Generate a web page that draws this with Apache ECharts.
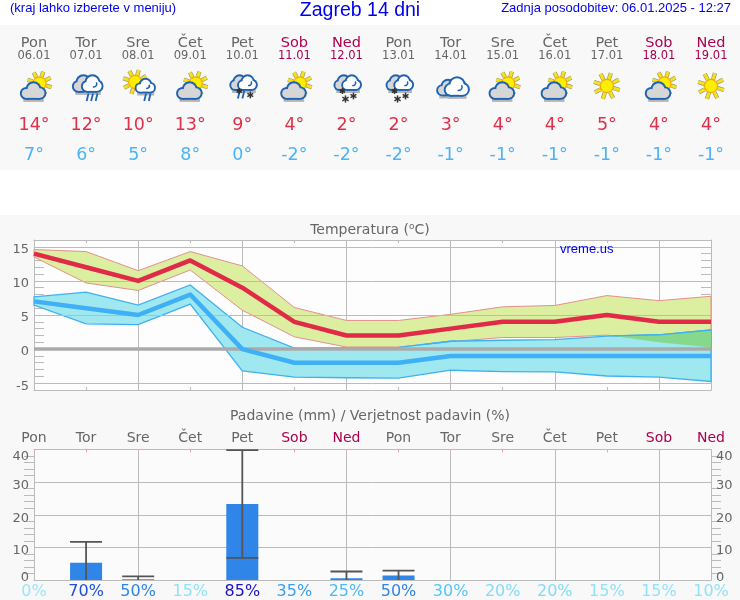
<!DOCTYPE html>
<html><head><meta charset="utf-8">
<style>html,body{margin:0;padding:0;background:#fff}#c{width:740px;height:600px}</style>
<script src="https://cdn.jsdelivr.net/npm/echarts@6/dist/echarts.min.js"></script>
</head><body><div id="c"></div>
<script>
const days = ['Pon','Tor','Sre','Čet','Pet','Sob','Ned','Pon','Tor','Sre','Čet','Pet','Sob','Ned'];
const dates = ['06.01','07.01','08.01','09.01','10.01','11.01','12.01','13.01','14.01','15.01','16.01','17.01','18.01','19.01'];
const icons = ['partly','rain','sunrain','partly','sleet','partly','snow','snow','cloud','partly','partly','sun','partly','sun'];
const tempMax = [14,12,10,13,9,4,2,2,3,4,4,5,4,4];
const tempMin = [7,6,5,8,0,-2,-2,-2,-1,-1,-1,-1,-1,-1];
const maxUpper = [14.6,14.3,11.5,14.3,12.2,6.1,4.2,4.2,5.1,6.2,6.4,7.85,7.1,7.75];
const maxLower = [13.5,9.7,8.6,11.6,5.7,1.8,0.3,0.3,1.1,1.7,1.7,2.05,1.0,0.25];
const minUpper = [7.65,8.35,6.45,9.4,3.2,0.15,0.2,0.25,1.15,1.3,1.4,1.9,2.1,2.8];
const minLower = [6.45,3.7,3.6,6.6,-3.2,-4.1,-4.2,-4.25,-3.1,-3.3,-3.35,-3.95,-4.1,-4.75];
const zeroLine = [0,0,0,0,0,0,0,0,0,0,0,0,0,0];
const precip = [0,5.3,0.2,0,23.3,0,0.5,1.4,0,0,0,0,0,0];
const precipLow = [null,0,0,null,6.8,null,0,0,null,null,null,null,null,null];
const precipHigh = [null,11.7,1.1,null,39.8,null,2.6,2.9,null,null,null,null,null,null];
const probability = [0,70,50,15,85,35,25,50,30,20,20,15,15,10];
const probabilityColors = {0:'#9be6f8',10:'#8fe3f8',15:'#8fe3f8',20:'#80dcf8',25:'#4cbaf8',30:'#55c5fa',35:'#3a9ef0',50:'#2f85e8',70:'#1e50d8',85:'#1a10c8'};

const GREY='#666', WEEKEND='#a8004c', FONT='"DejaVu Sans"', LINE='#bbbbbb', LINK='#0000ee';
const isWeekend = i => i===5||i===6||i===12||i===13;
const dayColor = (v,i) => isWeekend(i) ? WEEKEND : GREY;

const OUT='#1f62b2';
function cloudParts(cx,cy,w,h,fill,curl){
  const lobes=[[-0.28*w,0.16*h,0.30*h],[0.28*w,0.14*h,0.32*h],[0.02*w,-0.12*h,0.40*h]];
  const body={x:cx-0.28*w,y:cy+0.1*h,width:0.56*w,height:0.36*h};
  const out=[];
  out.push({type:'rect',shape:{x:body.x-3,y:body.y+3,width:body.width+7,height:body.height+1},style:{fill:'#b5b5b5'}});
  lobes.forEach(l=>out.push({type:'circle',shape:{cx:cx+l[0],cy:cy+l[1],r:l[2]+1.9},style:{fill:OUT}}));
  out.push({type:'rect',shape:{x:body.x,y:body.y-1,width:body.width,height:body.height+2.9},style:{fill:OUT}});
  lobes.forEach(l=>out.push({type:'circle',shape:{cx:cx+l[0],cy:cy+l[1],r:l[2]},style:{fill:fill}}));
  out.push({type:'rect',shape:{x:body.x,y:body.y-1,width:body.width,height:body.height+1},style:{fill:fill}});
  if(curl) out.push({type:'arc',shape:{cx:cx+0.1*w,cy:cy+0.0*h,r:0.2*h,startAngle:-0.6,endAngle:1.9,clockwise:true},style:{stroke:OUT,lineWidth:1.5,fill:null}});
  return out;
}
function sunParts(cx,cy,r,len){
  const out=[];
  for(let k=0;k<8;k++){
    const a=k*Math.PI/4+0.3, c=Math.cos(a), s=Math.sin(a);
    const seg={x1:cx+c*(r+1),y1:cy+s*(r+1),x2:cx+c*(r+len),y2:cy+s*(r+len)};
    out.push({type:'line',shape:seg,style:{stroke:'#8f8f78',lineWidth:4.2}});
    out.push({type:'line',shape:seg,style:{stroke:'#f6e21a',lineWidth:3}});
  }
  out.push({type:'circle',shape:{cx,cy,r:r+1.2},style:{fill:'#f3a900'}});
  out.push({type:'circle',shape:{cx,cy,r:r},style:{fill:'#ffee00'}});
  return out;
}
function rainParts(x,y,n){
  const out=[];
  for(let k=0;k<n;k++) out.push({type:'line',shape:{x1:x+k*4.5+1.4,y1:y,x2:x+k*4.5-0.4,y2:y+7.5},style:{stroke:OUT,lineWidth:1.8}});
  return out;
}
function flakeParts(x,y,r){
  const out=[];
  for(let k=0;k<3;k++){
    const a=k*Math.PI/3+Math.PI/2, c=Math.cos(a)*r, s=Math.sin(a)*r;
    out.push({type:'line',shape:{x1:x-c,y1:y-s,x2:x+c,y2:y+s},style:{stroke:'#333',lineWidth:1.5}});
  }
  return out;
}
function iconParts(kind,x,y){
  const p=[];
  if(kind==='partly'){
    p.push(...sunParts(x+5.5,y-3.5,6,6.5));
    p.push(...cloudParts(x-1,y+4,24,15,'#d6d6d6',false));
  } else if(kind==='sun'){
    p.push(...sunParts(x,y-1,6,7.5));
  } else if(kind==='rain'){
    p.push(...cloudParts(x-3,y-3,17,15,'#d6d6d6',false));
    p.push(...cloudParts(x+6,y-3,17,15,'#ffffff',true));
    p.push(...rainParts(x+1,y+6.5,3));
  } else if(kind==='sunrain'){
    p.push(...sunParts(x-3,y-5,6,6.5));
    p.push(...cloudParts(x+7,y-1,18,12,'#ffffff',true));
    p.push(...rainParts(x+6.5,y+6.5,2));
  } else if(kind==='sleet'){
    p.push(...cloudParts(x-3,y-4,15,13,'#d6d6d6',false));
    p.push(...cloudParts(x+5,y-4,16,13,'#ffffff',true));
    p.push(...rainParts(x-4,y+4,2));
    p.push(...flakeParts(x-3,y+4,3),...flakeParts(x+8,y+8,3.4));
  } else if(kind==='snow'){
    p.push(...cloudParts(x-3,y-4,15,13,'#d6d6d6',false));
    p.push(...cloudParts(x+5,y-4,16,13,'#ffffff',true));
    p.push(...flakeParts(x-4,y+4,3),...flakeParts(x-1,y+12,3.6),...flakeParts(x+7,y+9,3.4));
  } else {
    p.push(...cloudParts(x-3,y+1,19,14,'#d6d6d6',false));
    p.push(...cloudParts(x+6,y,21,17,'#ffffff',true));
  }
  return p;
}
function txt(text,x,y,size,fill){
  return {type:'text',style:{text,x,y,font:size+'px '+FONT,fill,align:'center',verticalAlign:'middle'}};
}
function headerItem(params,api){
  const i=params.dataIndex, x=api.coord([i,0])[0];
  const c=dayColor(null,i);
  return {type:'group',children:[
    txt(days[i],x,43,14.5,isWeekend(i)?'#b00050':GREY),
    txt(dates[i],x,56,11.5,c),
    ...iconParts(icons[i],x,87),
    txt(tempMax[i]+'°',x,125,17.5,'#e0304a'),
    txt(tempMin[i]+'°',x,155,17.5,'#4ab4f5')
  ]};
}
function bandItem(upper,lower,fill,stroke,lw){
  return function(params,api){
    if(params.dataIndex!==0) return null;
    const pts=[];
    upper.forEach((v,i)=>pts.push(api.coord([i,v])));
    for(let i=lower.length-1;i>=0;i--) pts.push(api.coord([i,lower[i]]));
    return {type:'polygon',shape:{points:pts},style:{fill,stroke,lineWidth:lw}};
  };
}
/* where the Tmin range rises above the bottom of the Tmax range the two bands mix into green */
function overlapItem(params,api){
  const i=params.dataIndex;
  if(i>=days.length-1) return null;
  const d0=minUpper[i]-maxLower[i], d1=minUpper[i+1]-maxLower[i+1];
  if(d0<=0&&d1<=0) return null;
  const ua=api.coord([i,minUpper[i]]), ub=api.coord([i+1,minUpper[i+1]]);
  const la=api.coord([i,maxLower[i]]), lb=api.coord([i+1,maxLower[i+1]]);
  const t=d0/(d0-d1);
  const mix=(a,b)=>[a[0]+(b[0]-a[0])*t,a[1]+(b[1]-a[1])*t];
  let pts, top;
  if(d0>0&&d1>0){pts=[ua,ub,lb,la];top=[ua,ub];}
  else if(d0>0){const m=mix(ua,ub);pts=[ua,m,la];top=[ua,m];}
  else {const m=mix(ua,ub);pts=[m,ub,lb];top=[m,ub];}
  return {type:'group',children:[
    {type:'polygon',shape:{points:pts},style:{fill:'#86d98c'}},
    {type:'polyline',shape:{points:top},style:{stroke:'#3fb0f0',lineWidth:1.3,fill:null}}
  ]};
}
function whiskerItem(params,api){
  const i=api.value(0), lo=api.value(1), hi=api.value(2);
  if(isNaN(lo)||isNaN(hi)) return null;
  const a=api.coord([i,lo]), b=api.coord([i,hi]), s={stroke:'#555',lineWidth:1.8};
  const kids=[{type:'line',shape:{x1:a[0],y1:a[1],x2:b[0],y2:b[1]},style:s},
              {type:'line',shape:{x1:b[0]-16,y1:b[1],x2:b[0]+16,y2:b[1]},style:s}];
  if(lo>0) kids.push({type:'line',shape:{x1:a[0]-16,y1:a[1],x2:a[0]+16,y2:a[1]},style:s});
  return {type:'group',children:kids};
}
const idx = days.map((d,i)=>i);
const gridLineMarks = vals => ({silent:true,symbol:'none',animation:false,label:{show:false},
  lineStyle:{color:LINE,width:1,type:'solid'},data:vals.map(v=>({yAxis:v}))});
const catAxis = (grid,pos,data,extra)=>Object.assign({
  type:'category',gridIndex:grid,position:pos,data:data,boundaryGap:false,
  axisLine:{show:true,onZero:false,lineStyle:{color:LINE}},
  axisTick:{show:true,inside:true,length:3,alignWithLabel:true,interval:0,lineStyle:{color:LINE}},
  splitLine:{show:false},axisLabel:{show:false}
},extra||{});
const precipLabel = {show:true,margin:5,fontFamily:FONT,fontSize:13,color:GREY,
  formatter:v=>(v===40?'{top|40}':v===0?'{low|0}':'{mid|'+v+'}'),
  rich:{
    top:{fontFamily:FONT,fontSize:13,color:GREY,padding:[14,0,0,0]},
    mid:{fontFamily:FONT,fontSize:13,color:GREY,padding:[7,0,0,0]},
    low:{fontFamily:FONT,fontSize:13,color:GREY,padding:[0,0,4,0]}
  }};
const titleStyle = (font,size,color)=>({fontFamily:font,fontSize:size,fontWeight:'normal',color});

const option = {
  animation:false,backgroundColor:'#ffffff',
  title:[
    {text:'(kraj lahko izberete v meniju)',padding:0,left:10,top:2,textStyle:titleStyle('Liberation Sans',13,LINK)},
    {text:'Zagreb 14 dni',padding:0,left:360,top:1,textAlign:'center',textStyle:titleStyle('Liberation Sans',19.5,LINK)},
    {text:'Zadnja posodobitev: 06.01.2025 - 12:27',padding:0,right:9,top:2,textStyle:titleStyle('Liberation Sans',13,LINK)},
    {text:'Temperatura ({s|o}C)',padding:0,left:370,top:222,textAlign:'center',textStyle:Object.assign(titleStyle(FONT,14,GREY),{rich:{s:{fontFamily:FONT,fontSize:9,color:GREY,padding:[0,0,7,0]}}})},
    {text:'Padavine (mm) / Verjetnost padavin (%)',padding:0,left:370,top:409,textAlign:'center',textStyle:titleStyle(FONT,14,GREY)},
    {text:'vreme.us',padding:0,left:560,top:243,textStyle:titleStyle('Liberation Sans',13,LINK)}
  ],
  graphic:[
    {type:'rect',silent:true,z:-10,shape:{x:0,y:25,width:740,height:145},style:{fill:'#f8f8f8'}},
    {type:'rect',silent:true,z:-10,shape:{x:0,y:215,width:740,height:385},style:{fill:'#f8f8f8'}}
  ],
  grid:[
    {left:34,right:29,top:25,height:145,show:false},
    {left:34,right:29,top:240,height:150,show:true,backgroundColor:'#fdfdfd',borderWidth:0},
    {left:34,right:29,top:449.5,height:132,show:true,backgroundColor:'#fbfbfb',borderWidth:0}
  ],
  xAxis:[
    catAxis(0,'bottom',days,{show:false}),
    catAxis(1,'bottom',idx,{splitLine:{show:true,interval:(i)=>i%2===0,lineStyle:{color:LINE}}}),
    catAxis(1,'top',idx),
    catAxis(2,'bottom',probability,{
      axisTick:{show:false},
      splitLine:{show:true,interval:(i)=>i%2===0,lineStyle:{color:LINE}},
      axisLabel:{show:true,interval:0,margin:4,hideOverlap:false,fontFamily:FONT,fontSize:16,
        formatter:v=>v+'%',color:(v)=>probabilityColors[v]}
    }),
    catAxis(2,'top',days,{
      axisLine:{show:true,onZero:false,lineStyle:{color:'#e6a6c0'}},
      axisTick:{show:true,inside:true,length:3,alignWithLabel:true,interval:0,lineStyle:{color:'#e6a6c0'}},
      axisLabel:{show:true,interval:0,margin:4,hideOverlap:false,fontFamily:FONT,fontSize:14,color:dayColor}
    })
  ],
  yAxis:[
    {type:'value',gridIndex:0,show:false,min:0,max:1},
    {type:'value',gridIndex:1,position:'left',min:-6,max:16,interval:1,
      axisLine:{show:true,onZero:false,lineStyle:{color:LINE}},
      axisTick:{show:true,inside:true,length:10,lineStyle:{color:LINE}},
      splitLine:{show:false},
      axisLabel:{show:true,margin:5,fontFamily:FONT,fontSize:13,color:GREY,
        formatter:v=>(v%5===0?'{mid|'+v+'}':''),
        rich:{mid:{fontFamily:FONT,fontSize:13,color:GREY,padding:[6,0,0,0]}}}},
    {type:'value',gridIndex:1,position:'right',min:-6,max:16,interval:1,
      axisLine:{show:true,onZero:false,lineStyle:{color:LINE}},
      axisTick:{show:true,inside:true,length:10,lineStyle:{color:LINE}},
      splitLine:{show:false},axisLabel:{show:false}},
    {type:'value',gridIndex:2,position:'left',min:0,max:40,interval:10,
      axisLine:{show:true,onZero:false,lineStyle:{color:LINE}},
      axisTick:{show:false},
      minorTick:{show:true,splitNumber:5,length:10,lineStyle:{color:LINE}},
      splitLine:{show:true,lineStyle:{color:LINE}},
      axisLabel:precipLabel},
    {type:'value',gridIndex:2,position:'right',min:0,max:40,interval:10,
      axisLine:{show:true,onZero:false,lineStyle:{color:LINE}},
      axisTick:{show:false},
      minorTick:{show:true,splitNumber:5,length:10,lineStyle:{color:LINE}},
      splitLine:{show:false},
      axisLabel:precipLabel}
  ],
  series:[
    {type:'custom',name:'header',xAxisIndex:0,yAxisIndex:0,silent:true,clip:false,data:days.map((d,i)=>[i,0]),renderItem:headerItem,encode:{x:0,y:1}},
    {type:'line',name:'grid',xAxisIndex:1,yAxisIndex:1,data:[],z:1,markLine:gridLineMarks([-5,5,10,15])},
    {type:'custom',name:'Tmax range',xAxisIndex:1,yAxisIndex:1,z:2,silent:true,data:idx.map(i=>[i,maxLower[i],maxUpper[i]]),renderItem:bandItem(maxUpper,maxLower,'#dceea0','#e58f8f',1),encode:{x:0,y:[1,2]}},
    {type:'custom',name:'Tmin range',xAxisIndex:1,yAxisIndex:1,z:3,silent:true,data:idx.map(i=>[i,minLower[i],minUpper[i]]),renderItem:bandItem(minUpper,minLower,'#9fe8f0','#3fb0f0',1.3),encode:{x:0,y:[1,2]}},
    {type:'custom',name:'overlap',xAxisIndex:1,yAxisIndex:1,z:3,silent:true,data:idx.map(i=>[i,minUpper[i]]),renderItem:overlapItem,encode:{x:0,y:1}},
    {type:'line',name:'0',xAxisIndex:1,yAxisIndex:1,z:4,data:zeroLine,showSymbol:false,symbol:'none',lineStyle:{color:'#aaaaaa',width:3.5}},
    {type:'line',name:'Tmax',xAxisIndex:1,yAxisIndex:1,z:5,data:tempMax,showSymbol:false,symbol:'none',lineStyle:{color:'#e02a48',width:4.5,cap:'butt',join:'round'}},
    {type:'line',name:'Tmin',xAxisIndex:1,yAxisIndex:1,z:5,data:tempMin,showSymbol:false,symbol:'none',lineStyle:{color:'#3fb0f5',width:4.5,cap:'butt',join:'round'}},
    {type:'bar',name:'Padavine',xAxisIndex:3,yAxisIndex:3,z:3,data:precip,barWidth:32,itemStyle:{color:'#2f85e8'}},
    {type:'custom',name:'Razpon',xAxisIndex:3,yAxisIndex:3,z:4,silent:true,clip:false,data:idx.map(i=>[i,precipLow[i],precipHigh[i]]),renderItem:whiskerItem,encode:{x:0,y:[1,2]}}
  ]
};
const chart = echarts.init(document.getElementById('c'));
chart.setOption(option);
</script></body></html>
